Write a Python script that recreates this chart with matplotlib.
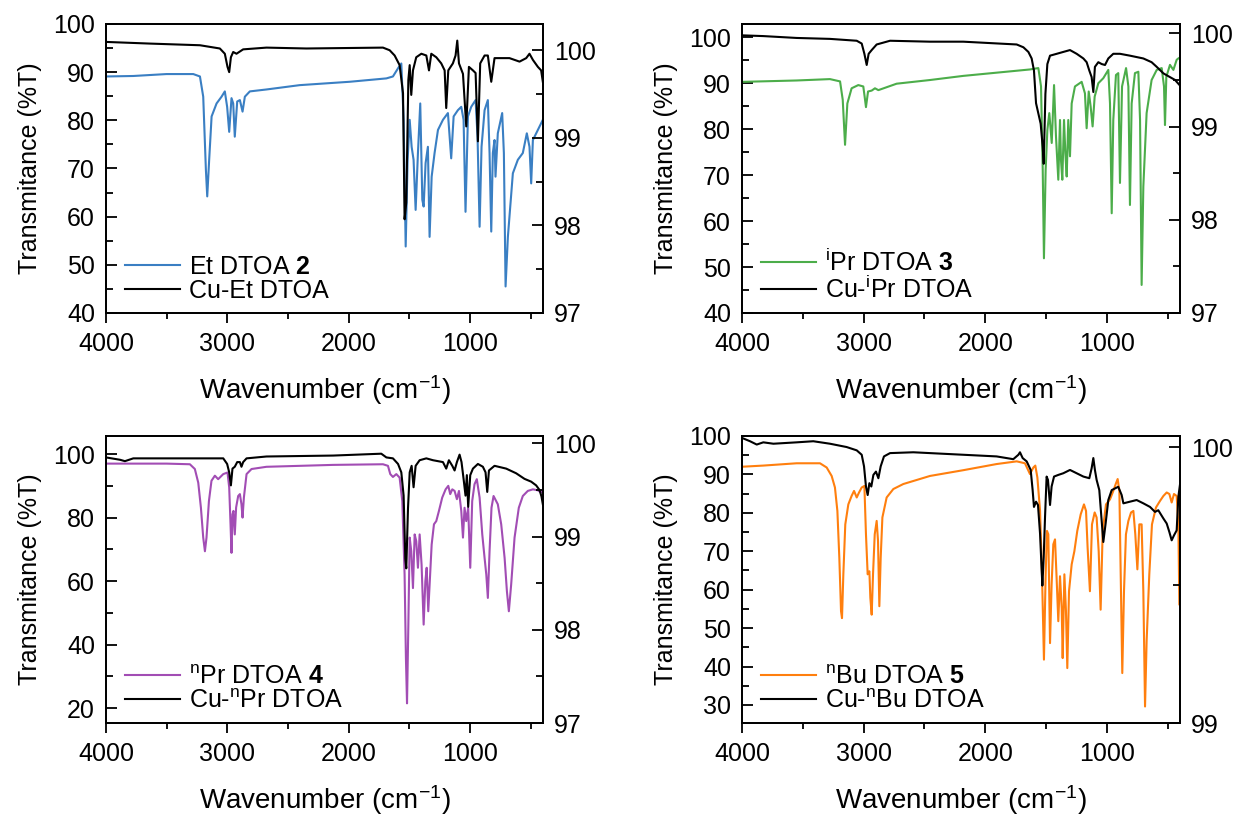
import matplotlib
matplotlib.use("Agg")
import matplotlib.pyplot as plt
from matplotlib.ticker import MultipleLocator
from matplotlib.lines import Line2D

plt.rcParams['font.family'] = ['Liberation Sans', 'DejaVu Sans']
plt.rcParams['mathtext.fontset'] = 'custom'
plt.rcParams['mathtext.rm'] = 'Liberation Sans'
plt.rcParams['mathtext.it'] = 'Liberation Sans'
plt.rcParams['mathtext.bf'] = 'Liberation Sans:bold'

# ---------------- Panel 1: Et DTOA 2 / Cu-Et DTOA ----------------
et_wn = [4000, 3775, 3501, 3281, 3226, 3199, 3177, 3166, 3150, 3130, 3089, 3048, 3021, 3002, 2985, 2966,
         2952, 2939, 2919, 2897, 2875, 2856, 2815, 2678, 2404, 1992, 1690, 1636, 1594, 1567, 1548, 1531,
         1515, 1498, 1482, 1466, 1449, 1430, 1411, 1394, 1383, 1367, 1348, 1334, 1317, 1293, 1265, 1224,
         1183, 1156, 1136, 1101, 1073, 1054, 1038, 1018, 991, 955, 939, 922, 906, 881, 854, 840, 826, 813,
         799, 791, 772, 736, 722, 708, 689, 648, 607, 566, 533, 511, 497, 483, 442, 401]
et_T = [89.1, 89.2, 89.6, 89.6, 89.1, 84.9, 69.7, 64.2, 71.8, 80.8, 83.5, 84.9, 86.0, 82.8, 77.6, 84.6,
        83.5, 76.6, 83.9, 84.2, 81.8, 84.9, 86.0, 86.4, 87.3, 88.0, 88.7, 89.1, 90.8, 91.8, 80.1, 53.8,
        71.8, 80.1, 74.5, 71.8, 61.4, 73.2, 83.5, 63.5, 62.1, 71.1, 74.5, 55.8, 68.3, 73.2, 78.0, 80.1,
        81.5, 72.1, 80.8, 82.1, 82.8, 80.1, 61.0, 80.8, 82.8, 84.2, 76.6, 57.9, 74.5, 82.1, 84.2, 73.2,
        56.9, 73.2, 75.9, 68.3, 77.3, 81.5, 73.2, 45.5, 55.8, 69.0, 71.8, 73.2, 77.3, 74.5, 66.9, 75.9,
        78.0, 80.1]
cuet_wn = [4000, 3638, 3226, 3062, 3021, 2999, 2985, 2971, 2952, 2925, 2903, 2870, 2678, 2349, 1718, 1663,
           1622, 1581, 1553, 1540, 1526, 1509, 1498, 1485, 1471, 1444, 1402, 1361, 1339, 1320, 1279, 1238,
           1210, 1197, 1180, 1142, 1120, 1106, 1092, 1059, 1032, 1010, 977, 955, 936, 917, 881, 854, 826,
           799, 676, 593, 538, 511, 483, 442, 415, 401]
cuet_T = [100.095, 100.076, 100.057, 100.02, 99.96, 99.81, 99.75, 99.92, 99.98, 99.96, 99.98, 100.01,
          100.03, 100.02, 100.03, 100.0, 99.94, 99.83, 99.51, 98.07, 98.26, 99.66, 99.83, 99.49, 99.77,
          99.92, 99.96, 99.94, 99.77, 99.96, 99.92, 99.85, 99.77, 99.34, 99.77, 99.85, 99.94, 100.11,
          99.85, 99.73, 99.13, 99.81, 99.77, 99.74, 98.96, 99.85, 99.94, 99.94, 99.64, 99.91, 99.91,
          99.87, 99.91, 99.96, 99.89, 99.81, 99.77, 99.64]

# ---------------- Panel 2: iPr DTOA 3 / Cu-iPr DTOA ----------------
ipr_wn = [4000, 3551, 3277, 3194, 3172, 3153, 3134, 3099, 3044, 3003, 2992, 2981, 2964, 2934, 2907, 2879,
          2729, 2455, 2181, 1907, 1633, 1564, 1542, 1528, 1518, 1504, 1490, 1474, 1454, 1435, 1419, 1400,
          1386, 1378, 1367, 1353, 1342, 1331, 1318, 1304, 1290, 1263, 1208, 1181, 1167, 1150, 1134, 1118,
          1101, 1071, 1030, 989, 975, 961, 948, 926, 907, 893, 876, 843, 824, 811, 797, 770, 742, 728, 715,
          701, 674, 633, 591, 550, 531, 523, 512, 482, 454, 427, 413, 400]
ipr_T = [90.3, 90.6, 90.9, 90.4, 86.4, 76.6, 85.6, 88.9, 89.6, 89.3, 87.1, 84.8, 88.2, 88.4, 88.9, 88.5,
         89.9, 90.7, 91.6, 92.3, 93.0, 93.3, 89.3, 71.2, 51.9, 71.2, 79.8, 83.5, 77.0, 89.6, 78.4, 69.0,
         82.0, 73.3, 69.0, 82.0, 74.8, 69.7, 82.0, 74.1, 85.6, 89.3, 90.3, 87.8, 80.2, 88.2, 84.9, 80.6,
         87.1, 90.0, 91.1, 92.9, 85.6, 61.7, 82.0, 91.8, 92.2, 68.3, 89.3, 93.3, 89.3, 63.5, 85.6, 92.2,
         92.5, 82.0, 46.1, 67.5, 83.5, 90.7, 92.9, 93.3, 89.3, 80.9, 91.4, 94.0, 92.9, 95.1, 95.4, 95.6]
cuipr_wn = [4000, 3825, 3551, 3277, 3057, 3016, 2994, 2975, 2959, 2934, 2893, 2783, 2455, 2181, 1742, 1687,
            1646, 1619, 1600, 1583, 1564, 1545, 1528, 1520, 1506, 1490, 1468, 1413, 1359, 1304, 1249, 1194,
            1167, 1145, 1126, 1112, 1099, 1071, 1043, 1016, 989, 948, 893, 811, 701, 633, 591, 536, 482,
            441, 400]
cuipr_T = [99.978, 99.97, 99.95, 99.94, 99.92, 99.89, 99.78, 99.66, 99.78, 99.82, 99.88, 99.92, 99.91,
           99.91, 99.88, 99.85, 99.80, 99.73, 99.60, 99.25, 99.14, 99.03, 98.78, 98.60, 99.35, 99.67,
           99.76, 99.78, 99.80, 99.82, 99.78, 99.73, 99.69, 99.60, 99.53, 99.37, 99.64, 99.69, 99.67,
           99.66, 99.73, 99.78, 99.78, 99.76, 99.73, 99.69, 99.64, 99.57, 99.53, 99.50, 99.44]

# ---------------- Panel 3: nPr DTOA 4 / Cu-nPr DTOA ----------------
npr_wn = [4000, 3501, 3309, 3268, 3240, 3218, 3199, 3185, 3172, 3152, 3131, 3103, 3076, 3034, 2999, 2985,
          2974, 2966, 2958, 2950, 2939, 2928, 2911, 2897, 2884, 2875, 2864, 2842, 2801, 2678, 2404, 2129,
          1718, 1677, 1658, 1636, 1608, 1581, 1559, 1540, 1529, 1520, 1509, 1498, 1485, 1471, 1457, 1444,
          1430, 1416, 1400, 1383, 1369, 1358, 1345, 1331, 1317, 1298, 1279, 1257, 1230, 1202, 1180, 1164,
          1147, 1128, 1109, 1092, 1073, 1059, 1046, 1032, 1016, 999, 983, 964, 945, 922, 900, 881, 867,
          854, 840, 824, 807, 772, 744, 716, 697, 681, 662, 634, 599, 566, 525, 483, 442, 415, 400]
npr_T = [97.0, 97.0, 96.8, 95.3, 91.0, 83.1, 73.7, 69.4, 73.7, 85.2, 91.6, 93.2, 92.1, 93.7, 94.2, 89.5,
         77.9, 68.9, 81.0, 82.1, 74.7, 83.2, 86.8, 87.4, 84.2, 80.0, 86.3, 93.7, 95.3, 96.0, 96.3, 96.6,
         96.8, 96.3, 93.7, 92.8, 93.7, 92.6, 85.2, 62.1, 35.7, 21.5, 46.3, 73.7, 69.4, 57.8, 74.7, 72.6,
         64.2, 74.7, 65.2, 46.3, 59.9, 64.2, 50.5, 61.0, 71.5, 77.9, 78.9, 82.1, 86.3, 88.9, 90.0, 87.4,
         88.9, 88.4, 85.8, 88.4, 82.1, 73.7, 83.1, 78.9, 83.1, 64.2, 85.2, 90.5, 92.1, 86.3, 74.7, 67.3,
         62.1, 54.7, 69.4, 83.1, 86.8, 84.2, 77.9, 67.3, 56.8, 50.5, 58.9, 73.7, 83.1, 86.8, 88.4, 88.9,
         88.6, 87.9, 88.9]
cunpr_wn = [4000, 3885, 3844, 3775, 3501, 3226, 3034, 3002, 2985, 2971, 2958, 2939, 2919, 2897, 2884, 2870,
            2842, 2678, 2129, 1732, 1690, 1636, 1594, 1567, 1548, 1534, 1526, 1512, 1498, 1482, 1466, 1449,
            1416, 1361, 1306, 1224, 1197, 1175, 1147, 1128, 1109, 1087, 1071, 1054, 1038, 1027, 1016, 999,
            977, 936, 895, 873, 859, 845, 799, 703, 621, 552, 497, 456, 428, 412, 400]
cunpr_T = [99.85, 99.825, 99.81, 99.84, 99.84, 99.84, 99.84, 99.78, 99.69, 99.55, 99.73, 99.75, 99.80,
           99.80, 99.75, 99.80, 99.84, 99.86, 99.87, 99.89, 99.85, 99.84, 99.78, 99.69, 99.44, 98.76,
           98.66, 99.30, 99.69, 99.76, 99.53, 99.76, 99.82, 99.84, 99.82, 99.80, 99.73, 99.82, 99.76,
           99.71, 99.80, 99.88, 99.80, 99.62, 99.44, 99.66, 99.32, 99.66, 99.73, 99.78, 99.75, 99.69,
           99.48, 99.71, 99.76, 99.73, 99.68, 99.62, 99.59, 99.55, 99.50, 99.43, 99.34]

# ---------------- Panel 4: nBu DTOA 5 / Cu-nBu DTOA ----------------
nbu_wn = [4000, 3825, 3551, 3359, 3304, 3263, 3236, 3216, 3200, 3186, 3178, 3167, 3151, 3126, 3099, 3079,
          3057, 3038, 3016, 2994, 2981, 2967, 2953, 2945, 2934, 2923, 2909, 2893, 2882, 2871, 2860, 2846,
          2811, 2756, 2674, 2455, 2181, 1907, 1742, 1674, 1633, 1605, 1589, 1572, 1550, 1534, 1518, 1504,
          1493, 1482, 1468, 1455, 1441, 1427, 1414, 1400, 1386, 1372, 1364, 1350, 1337, 1326, 1312, 1290,
          1268, 1244, 1216, 1189, 1172, 1159, 1140, 1123, 1101, 1085, 1068, 1052, 1035, 1008, 975, 948,
          928, 912, 898, 887, 874, 860, 844, 824, 802, 783, 767, 750, 734, 715, 701, 687, 674, 652, 630,
          597, 564, 536, 509, 487, 468, 449, 427, 413, 405, 400]
nbu_T = [92.0, 92.3, 92.9, 92.9, 91.8, 89.6, 86.6, 80.5, 68.3, 54.4, 52.6, 64.0, 77.0, 82.2, 84.4, 85.7,
         84.0, 85.3, 86.6, 87.0, 74.4, 64.0, 64.8, 57.9, 53.5, 64.0, 74.4, 77.9, 72.7, 55.7, 68.3, 78.8,
         84.0, 86.2, 87.5, 89.6, 91.1, 92.7, 93.4, 92.9, 90.1, 91.8, 92.3, 89.2, 80.5, 64.0, 41.8, 64.0,
         75.3, 74.4, 46.1, 61.3, 71.8, 73.1, 63.1, 51.8, 63.5, 55.2, 42.2, 64.0, 54.4, 39.6, 59.6, 66.6,
         70.0, 75.3, 79.6, 82.2, 80.5, 70.9, 59.6, 77.0, 80.1, 78.8, 70.0, 54.8, 75.3, 82.2, 83.5, 85.7,
         87.5, 88.8, 85.7, 64.0, 38.3, 59.6, 74.4, 77.9, 80.1, 80.5, 74.4, 65.3, 77.0, 77.0, 59.6, 29.6,
         46.6, 64.0, 77.0, 81.4, 83.1, 84.4, 85.3, 84.9, 82.7, 84.9, 84.4, 77.0, 56.1, 56.1]
cunbu_wn = [4000, 3934, 3879, 3825, 3742, 3551, 3414, 3277, 3140, 3057, 3016, 2997, 2981, 2967, 2953, 2937,
            2920, 2899, 2879, 2860, 2833, 2783, 2592, 2181, 1907, 1770, 1728, 1715, 1693, 1660, 1627, 1611,
            1600, 1583, 1567, 1550, 1539, 1531, 1520, 1509, 1496, 1485, 1468, 1455, 1435, 1400, 1359, 1304,
            1249, 1194, 1145, 1126, 1112, 1099, 1085, 1063, 1046, 1030, 1011, 989, 961, 934, 907, 879, 865,
            811, 756, 701, 646, 605, 578, 536, 509, 487, 468, 449, 427, 413, 400]
cunbu_T = [100.033, 100.021, 100.009, 100.017, 100.012, 100.017, 100.021, 100.012, 100.0, 99.988, 99.972,
           99.93, 99.857, 99.826, 99.869, 99.857, 99.899, 99.911, 99.887, 99.93, 99.966, 99.978, 99.981,
           99.972, 99.966, 99.956, 99.972, 99.981, 99.96, 99.948, 99.917, 99.844, 99.783, 99.802, 99.79,
           99.686, 99.577, 99.498, 99.601, 99.747, 99.893, 99.881, 99.79, 99.857, 99.893, 99.899, 99.905,
           99.917, 99.905, 99.893, 99.887, 99.923, 99.96, 99.917, 99.881, 99.844, 99.747, 99.656, 99.723,
           99.808, 99.844, 99.85, 99.856, 99.826, 99.796, 99.802, 99.808, 99.796, 99.783, 99.765, 99.771,
           99.741, 99.723, 99.692, 99.662, 99.68, 99.698, 99.82, 99.863]

panels = [
    dict(rect=[0.0859, 0.6174, 0.3541, 0.3533], wn=et_wn, T=et_T, cwn=cuet_wn, cT=cuet_T,
         color='#3a7fc3', ylim=(40, 100), ymaj=10, ymin=5, rlim=(97, 100.3), rmaj=1, rmin=0.5,
         lab1=r'Et DTOA $\mathbf{2}$', lab2='Cu-Et DTOA'),
    dict(rect=[0.6013, 0.6174, 0.3549, 0.3533], wn=ipr_wn, T=ipr_T, cwn=cuipr_wn, cT=cuipr_T,
         color='#4cad4a', ylim=(40, 102.9), ymaj=10, ymin=5, rlim=(97, 100.1), rmaj=1, rmin=0.5,
         lab1=r'$^{\mathrm{i}}$Pr DTOA $\mathbf{3}$', lab2=r'Cu-$^{\mathrm{i}}$Pr DTOA'),
    dict(rect=[0.0859, 0.1161, 0.3541, 0.3509], wn=npr_wn, T=npr_T, cwn=cunpr_wn, cT=cunpr_T,
         color='#a24db4', ylim=(15.3, 105.7), ymaj=20, ymin=10, rlim=(97, 100.08), rmaj=1, rmin=0.5,
         lab1=r'$^{\mathrm{n}}$Pr DTOA $\mathbf{4}$', lab2=r'Cu-$^{\mathrm{n}}$Pr DTOA'),
    dict(rect=[0.6013, 0.1161, 0.3549, 0.3509], wn=nbu_wn, T=nbu_T, cwn=cunbu_wn, cT=cunbu_T,
         color='#ff7f0e', ylim=(25.3, 100), ymaj=10, ymin=5, rlim=(99, 100.04), rmaj=1, rmin=0.5,
         lab1=r'$^{\mathrm{n}}$Bu DTOA $\mathbf{5}$', lab2=r'Cu-$^{\mathrm{n}}$Bu DTOA'),
]

FS = 18
LW = 1.5
fig = plt.figure(figsize=(12.34, 8.18), dpi=100)

for p in panels:
    ax = fig.add_axes(p['rect'])
    ax.plot(p['wn'], p['T'], color=p['color'], lw=LW)
    ax.set_xlim(4000, 400)
    ax.set_ylim(*p['ylim'])
    ax.xaxis.set_major_locator(MultipleLocator(1000))
    ax.xaxis.set_minor_locator(MultipleLocator(500))
    ax.yaxis.set_major_locator(MultipleLocator(p['ymaj']))
    ax.yaxis.set_minor_locator(MultipleLocator(p['ymin']))
    ax.tick_params(axis='x', which='major', direction='out', length=7, width=1.3, labelsize=FS, pad=7)
    ax.tick_params(axis='x', which='minor', direction='out', length=4, width=1.3)
    ax.tick_params(axis='y', which='major', direction='in', length=8, width=1.3, labelsize=FS, pad=8)
    ax.tick_params(axis='y', which='minor', direction='in', length=5, width=1.3)
    ax.set_xlabel(r'Wavenumber (cm$^{\mathregular{-1}}$)', fontsize=20, labelpad=12)
    ax.set_ylabel('Transmitance (%T)', fontsize=18, labelpad=8)

    ax2 = ax.twinx()
    ax2.plot(p['cwn'], p['cT'], color='black', lw=LW)
    ax2.set_ylim(*p['rlim'])
    ax2.yaxis.set_major_locator(MultipleLocator(p['rmaj']))
    ax2.yaxis.set_minor_locator(MultipleLocator(p['rmin']))
    ax2.tick_params(axis='y', which='major', direction='in', length=8, width=1.3, labelsize=FS, pad=8)
    ax2.tick_params(axis='y', which='minor', direction='in', length=5, width=1.3)
    for a in (ax, ax2):
        for s in a.spines.values():
            s.set_linewidth(1.3)

    handles = [Line2D([], [], color=p['color'], lw=LW), Line2D([], [], color='black', lw=LW)]
    ax2.legend(handles, [p['lab1'], p['lab2']], loc='lower left', bbox_to_anchor=(0.02, 0.0),
               frameon=False, fontsize=FS, handlelength=2.2, handletextpad=0.36,
               labelspacing=0.0, borderaxespad=0.0, borderpad=0.4)

fig.savefig('out.png', dpi=100)
